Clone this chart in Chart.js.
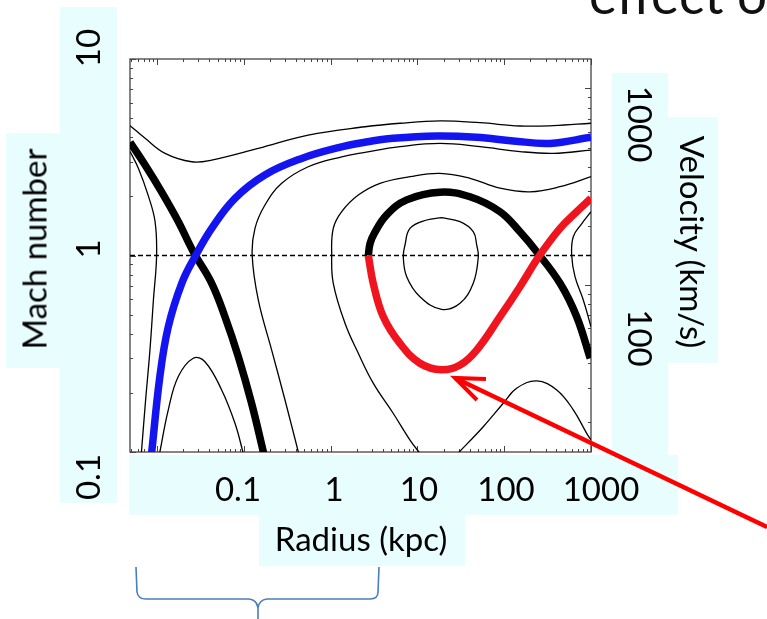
<!DOCTYPE html>
<html lang="en">
<head>
  <meta charset="UTF-8">
  <title>Mach number vs radius</title>
  <style>
    body { margin: 0; width: 767px; height: 619px; position: relative; overflow: hidden; background: #fff; font-family: Lato, "Open Sans", sans-serif; color: #000; }
    .box { position: absolute; background: #e8fdfd; z-index: 0; }
    #plot { position: absolute; left: 0; top: 0; z-index: 1; }
    .lbl { position: absolute; z-index: 2; white-space: nowrap; line-height: 1; font-size: 33px; transform: translate(-50%, -50%); }
    .up { transform: translate(-50%, -50%) rotate(-90deg); }
    .down { transform: translate(-50%, -50%) rotate(90deg); }
    #title { position: absolute; left: 589px; top: -33px; font-size: 53px; line-height: 1; white-space: nowrap; z-index: 2; color: #111; }
    #brace { position: absolute; left: 0; top: 0; z-index: 2; }
  </style>
</head>
<body>
  <div class="box" style="left:60px; top:7px; width:57px; height:496px;"></div>
  <div class="box" style="left:6px; top:133px; width:54px; height:235px;"></div>
  <div class="box" style="left:129px; top:455px; width:549px; height:60px;"></div>
  <div class="box" style="left:259px; top:515px; width:206px; height:51px;"></div>
  <div class="box" style="left:612px; top:73px; width:56px; height:382px;"></div>
  <div class="box" style="left:668px; top:117px; width:50px; height:246px;"></div>

  <canvas id="plot" width="767" height="619"></canvas>

  <div id="title">effect o</div>

  <div class="lbl up" style="left:87px; top:48px;">10</div>
  <div class="lbl up" style="left:87px; top:249px;">1</div>
  <div class="lbl up" style="left:87px; top:477px;">0.1</div>
  <div class="lbl up" style="left:34px; top:249px;">Mach number</div>

  <div class="lbl" style="left:238px; top:488px;">0.1</div>
  <div class="lbl" style="left:334px; top:488px;">1</div>
  <div class="lbl" style="left:419px; top:488px;">10</div>
  <div class="lbl" style="left:506px; top:488px;">100</div>
  <div class="lbl" style="left:601px; top:488px;">1000</div>
  <div class="lbl" style="left:361px; top:538px;">Radius (kpc)</div>

  <div class="lbl down" style="left:640px; top:124px;">1000</div>
  <div class="lbl down" style="left:640px; top:338px;">100</div>
  <div class="lbl down" style="left:692px; top:242px;">Velocity (km/s)</div>

  <svg id="brace" width="767" height="619">
    <path d="M136 567 L137 592 Q138 599 146 599 L249 599 Q257 600 258 608 L258 619 M258 608 Q259 600 267 599 L370 599 Q378 599 378 592 L379 567"
          fill="none" stroke="#4a7ebb" stroke-width="1.6"/>
  </svg>

<script src="https://cdn.jsdelivr.net/npm/chart.js"></script>
<script>
  // axis ranges (radius in kpc, Mach number, velocity km/s)
  const radiusMin = 0.00489, radiusMax = 1000;
  const machMin = 0.1, machMax = 10;
  const velMin = 14.1, velMax = 1413;

  // thick curves
  const blueRadius = [0.0086, 0.0108, 0.0135, 0.0193, 0.0274, 0.0427, 0.0792, 0.175, 0.465, 1.23, 2.49, 5.28, 16.7, 48.2, 127, 337, 1000];
  const blueMach   = [0.095, 0.242, 0.434, 0.722, 0.986, 1.375, 1.955, 2.57, 3.12, 3.54, 3.77, 3.95, 4.06, 4.00, 3.83, 3.72, 4.00];

  const blackLeftRadius = [0.0049, 0.0073, 0.0113, 0.0176, 0.0262, 0.0427, 0.0607, 0.0865, 0.123, 0.170];
  const blackLeftMach   = [3.77, 2.89, 2.11, 1.49, 1.045, 0.722, 0.488, 0.306, 0.177, 0.098];

  const blackArchRadius = [2.72, 2.85, 3.2, 4.43, 7.53, 18.2, 40.4, 89.5, 152, 237, 440, 684, 980];
  const blackArchMach   = [1.0, 1.15, 1.3, 1.61, 1.92, 2.10, 1.99, 1.67, 1.32, 1.045, 0.722, 0.488, 0.30];

  const redRadius = [2.72, 3.10, 4.05, 6.30, 10.7, 19.0, 31.0, 48.2, 89.5, 152, 258, 440, 684, 1000];
  const redMach   = [1.0, 0.722, 0.488, 0.357, 0.283, 0.262, 0.277, 0.330, 0.488, 0.694, 1.006, 1.375, 1.671, 1.955];

  // thin contours
  const c1Radius = [0.0049, 0.0073, 0.0124, 0.0251, 0.0427, 0.147, 0.553, 2.49, 6.30, 18.2, 52.6, 152, 368, 1000];
  const c1Mach   = [4.58, 3.95, 3.31, 3.00, 3.06, 3.51, 4.10, 4.52, 4.71, 4.84, 4.74, 4.56, 4.58, 4.71];

  const c2Radius = [0.425, 0.2985, 0.2096, 0.147, 0.125, 0.1346, 0.1754, 0.2735, 0.553, 1.343, 2.49, 6.30, 18.2, 52.6, 152, 368, 1000];
  const c2Mach   = [0.1, 0.184, 0.330, 0.594, 1.0, 1.375, 1.807, 2.33, 2.83, 3.18, 3.35, 3.58, 3.72, 3.58, 3.38, 3.31, 3.44];

  const c3Radius = [0.0049, 0.0061, 0.0079, 0.0095, 0.0099, 0.0091, 0.0083, 0.0074, 0.0066];
  const c3Mach   = [3.38, 2.78, 2.03, 1.49, 1.0, 0.594, 0.330, 0.184, 0.098];

  const c4Radius = [0.0107, 0.0135, 0.0176, 0.0262, 0.0357, 0.0556, 0.0792, 0.099];
  const c4Mach   = [0.098, 0.164, 0.242, 0.300, 0.288, 0.207, 0.140, 0.098];

  const c5Radius = [10.8, 8.22, 5.28, 3.10, 2.085, 1.466, 1.074, 1.03, 1.074, 1.343, 2.085, 3.71, 8.22, 18.2, 40.4, 89.5, 198, 440, 1000];
  const c5Mach   = [0.098, 0.115, 0.157, 0.224, 0.318, 0.452, 0.722, 1.006, 1.375, 1.671, 2.03, 2.33, 2.52, 2.62, 2.47, 2.20, 2.11, 2.24, 2.52];

  const c6Radius = [19.0, 31.0, 44.0, 48.2, 50.3, 44.0, 31.0, 19.0, 10.7, 7.53, 6.88, 7.20, 8.22, 12.8, 19.0];
  const c6Mach   = [1.557, 1.486, 1.322, 1.131, 0.986, 0.722, 0.571, 0.532, 0.617, 0.780, 0.986, 1.131, 1.375, 1.516, 1.557];

  const c7Radius = [1000, 780, 625, 599, 654, 815, 1000];
  const c7Mach   = [1.671, 1.45, 1.246, 1.006, 0.780, 0.594, 0.434];

  const c8Radius = [29, 57.4, 97.6, 139, 237, 403, 625, 892, 1000];
  const c8Mach   = [0.098, 0.1345, 0.177, 0.211, 0.230, 0.207, 0.164, 0.1245, 0.115];

  // sonic line and the arrow pointing at the red minimum
  const sonicRadius = [radiusMin, radiusMax];
  const sonicMach   = [1, 1];
  const arrowRadius = [61.7, 27.1, 48.6];
  const arrowMach   = [0.235, 0.238, 0.184];
  const shaftRadius = [27.1, 106700];
  const shaftMach   = [0.238, 0.0415];

  const pts = (rs, ms) => rs.map((r, i) => ({ x: r, y: ms[i] }));

  const thick = (rs, ms, color) => ({
    data: pts(rs, ms), borderColor: color, borderWidth: 7.5, tension: 0.4,
    pointRadius: 0, fill: false, borderCapStyle: 'butt'
  });
  const thin = (rs, ms) => ({
    data: pts(rs, ms), borderColor: '#000', borderWidth: 1.3, tension: 0.4,
    pointRadius: 0, fill: false
  });

  const frameTicks = {
    id: 'frameTicks',
    beforeDatasetsDraw(chart) {
      const { ctx, chartArea: a, scales } = chart;
      const logVals = (min, max) => {
        const out = [];
        for (let d = Math.floor(Math.log10(min)); d <= Math.ceil(Math.log10(max)); d++) {
          for (let k = 1; k <= 9; k++) {
            const v = k * Math.pow(10, d);
            if (v >= min * 0.999 && v <= max * 1.001) out.push([v, k === 1]);
          }
        }
        return out;
      };
      ctx.save();
      ctx.strokeStyle = '#444';
      ctx.lineWidth = 1;
      ctx.beginPath();
      logVals(scales.x.min, scales.x.max).forEach(([v, major]) => {
        const px = Math.round(scales.x.getPixelForValue(v)) + 0.5;
        const len = major ? 6 : 3;
        ctx.moveTo(px, a.bottom); ctx.lineTo(px, a.bottom - len);
        ctx.moveTo(px, a.top); ctx.lineTo(px, a.top + len);
      });
      logVals(scales.y.min, scales.y.max).forEach(([v, major]) => {
        const py = Math.round(scales.y.getPixelForValue(v)) + 0.5;
        ctx.moveTo(a.left, py); ctx.lineTo(a.left + (major ? 6 : 3), py);
      });
      logVals(scales.y2.min, scales.y2.max).forEach(([v, major]) => {
        const py = Math.round(scales.y2.getPixelForValue(v)) + 0.5;
        ctx.moveTo(a.right, py); ctx.lineTo(a.right - (major ? 6 : 3), py);
      });
      ctx.stroke();
      ctx.lineWidth = 1.3;
      ctx.strokeRect(a.left, a.top, a.width, a.height);
      ctx.restore();
    }
  };

  new Chart(document.getElementById('plot').getContext('2d'), {
    type: 'line',
    data: {
      datasets: [
        { data: pts(arrowRadius, arrowMach), borderColor: '#ff0000', borderWidth: 4, pointRadius: 0, tension: 0, clip: false },
        { data: pts(shaftRadius, shaftMach), borderColor: '#ff0000', borderWidth: 4.5, pointRadius: 0, tension: 0, clip: false },
        thick(redRadius, redMach, '#f0141e'),
        thick(blueRadius, blueMach, '#1414f0'),
        thick(blackArchRadius, blackArchMach, '#000'),
        thick(blackLeftRadius, blackLeftMach, '#000'),
        { data: pts(sonicRadius, sonicMach), borderColor: '#000', borderWidth: 1.5, borderDash: [5, 3], pointRadius: 0, tension: 0 },
        thin(c1Radius, c1Mach),
        thin(c2Radius, c2Mach),
        thin(c3Radius, c3Mach),
        thin(c4Radius, c4Mach),
        thin(c5Radius, c5Mach),
        thin(c6Radius, c6Mach),
        thin(c7Radius, c7Mach),
        thin(c8Radius, c8Mach)
      ]
    },
    options: {
      responsive: false,
      animation: false,
      devicePixelRatio: 1,
      layout: { padding: { left: 130, top: 59, right: 176, bottom: 167 } },
      plugins: { legend: { display: false }, tooltip: { enabled: false } },
      scales: {
        x: { type: 'logarithmic', min: radiusMin, max: radiusMax, display: false },
        y: { type: 'logarithmic', min: machMin, max: machMax, display: false },
        y2: { type: 'logarithmic', position: 'right', min: velMin, max: velMax, display: false }
      }
    },
    plugins: [frameTicks]
  });
</script>
</body>
</html>
